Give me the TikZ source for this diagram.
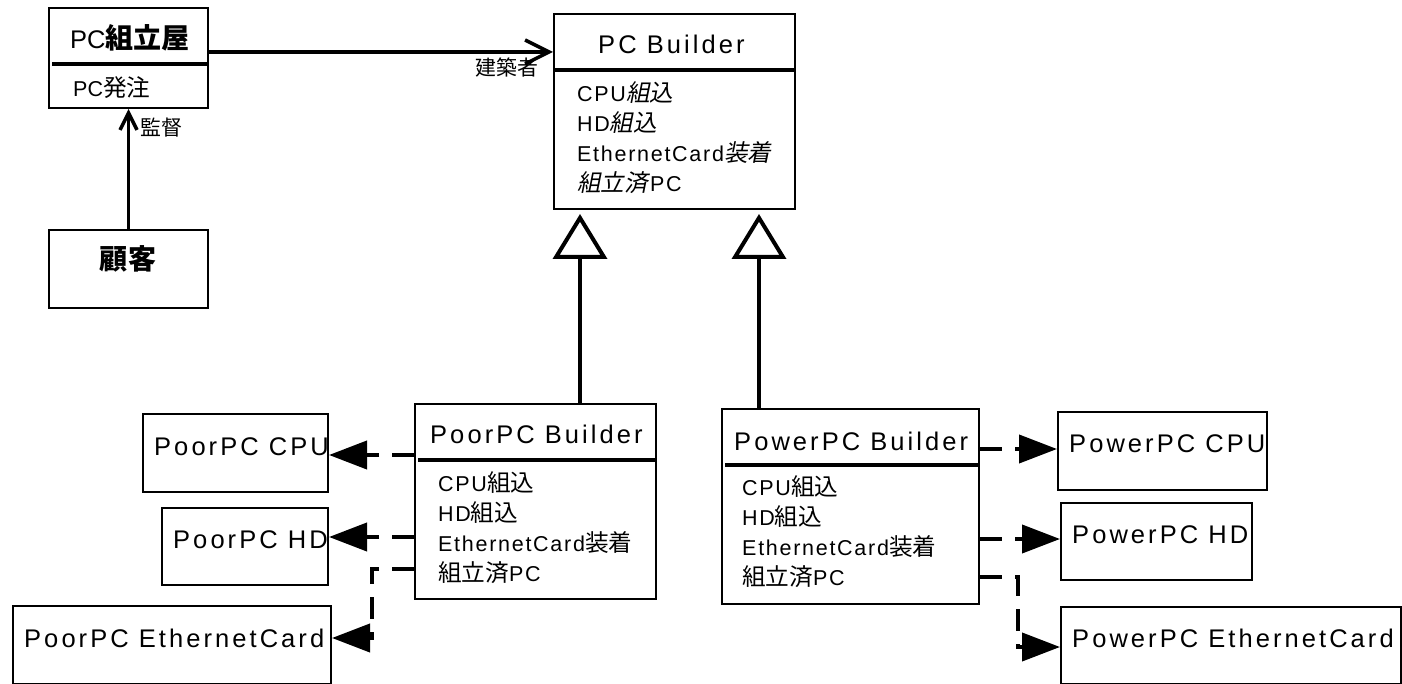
\documentclass[tikz,border=0pt]{standalone}
\usepackage{fontspec}
\setmainfont{Liberation Sans}
\newfontfamily\jp{Noto Sans CJK JP}[Scale=1.1]
\newfontfamily\jpit{Noto Sans CJK JP}[Scale=1.1,FakeSlant=0.2]
\newfontfamily\namefont{Liberation Sans}[LetterSpace=12]
\newfontfamily\memberfont{Liberation Sans}[LetterSpace=8]
\usepackage{tikz}
\usetikzlibrary{
  positioning,
  calc,
  arrows.meta
}

\begin{document}
\begin{tikzpicture}[x=1pt,y=-1pt,
  box/.style={draw,line width=2pt,inner sep=0pt,anchor=north west},
  clsname/.style={inner sep=0pt,anchor=base west,font=\fontsize{25.5pt}{30pt}\namefont},
  member/.style={inner sep=0pt,anchor=base west,font=\fontsize{21.5pt}{25pt}\memberfont},
  tag/.style={inner sep=0pt,anchor=base west,font=\fontsize{19pt}{23pt}\jp},
  divider/.style={line width=4pt},
  assoc/.style={line width=3.5pt,-{Straight Barb[length=#1,width=#1]}},
  inherit/.style={line width=#1,shorten >=4pt,-{Triangle[open,length=45pt,width=54pt,line width=4pt]}},
  uses/.style={line width=4pt,dash pattern=on 22pt off 13pt,-{Triangle[length=38pt,width=28pt]}}
]
  \useasboundingbox (0,0) rectangle (1402,684);

  % 依頼側
  \node[box,minimum width=159pt,minimum height=100pt] (shop) at (48,7) {};
  \node[clsname] (shop-t) at (70,49) {{\rmfamily PC}{\jp\bfseries 組立屋}};
  \draw[divider] (52,64) -- (207,64);
  \node[member] (shop-m) at (73,97) {{\rmfamily PC}{\jp 発注}};

  \node[box,minimum width=159pt,minimum height=78pt] (customer) at (48,229) {};
  \node[clsname,anchor=base] (customer-t) at (128,270) {\jp\bfseries 顧客};

  % 抽象ビルダー
  \node[box,minimum width=241pt,minimum height=195pt] (builder) at (553,13) {};
  \node[clsname] (builder-t) at (598,54) {PC Builder};
  \draw[divider] (555,70) -- (794,70);
  \foreach \m [count=\i] in {CPU{\jpit 組込},HD{\jpit 組込},EthernetCard{\jpit 装着},{\jpit 組立済}\kern2pt PC}
    \node[member] (builder-m\i) at (577,{72+30*\i}) {\m};

  % 具象ビルダー
  \node[box,minimum width=241pt,minimum height=195pt] (poorb) at (414,403) {};
  \node[clsname] (poorb-t) at (430,443) {PoorPC Builder};
  \draw[divider] (418,460) -- (655,460);
  \foreach \m [count=\i] in {CPU{\jp 組込},HD{\jp 組込},EthernetCard{\jp 装着},{\jp 組立済}PC}
    \node[member] (poorb-m\i) at (438,{461+30*\i}) {\m};

  \node[box,minimum width=257pt,minimum height=195pt] (powerb) at (721,408) {};
  \node[clsname] (powerb-t) at (734,450) {PowerPC Builder};
  \draw[divider] (725,465) -- (978,465);
  \foreach \m [count=\i] in {CPU{\jp 組込},HD{\jp 組込},EthernetCard{\jp 装着},{\jp 組立済}PC}
    \node[member] (powerb-m\i) at (742,{465+30*\i}) {\m};

  % 部品
  \node[box,minimum width=185pt,minimum height=78pt] (pcpu) at (142,413) {};
  \node[clsname] (pcpu-t) at (154,455) {PoorPC CPU};
  \node[box,minimum width=166pt,minimum height=77pt] (phd) at (161,507) {};
  \node[clsname] (phd-t) at (173,548) {PoorPC HD};
  \node[box,minimum width=318pt,minimum height=78pt] (peth) at (12,605) {};
  \node[clsname] (peth-t) at (24,647) {PoorPC EthernetCard};

  \node[box,minimum width=209pt,minimum height=78pt] (wcpu) at (1057,411) {};
  \node[clsname] (wcpu-t) at (1069,452) {PowerPC CPU};
  \node[box,minimum width=191pt,minimum height=77pt] (whd) at (1060,502) {};
  \node[clsname] (whd-t) at (1072,543) {PowerPC HD};
  \node[box,minimum width=340pt,minimum height=77pt] (weth) at (1060,606) {};
  \node[clsname] (weth-t) at (1072,647) {PowerPC EthernetCard};

  % 関連
  \coordinate (sl) at (0,52);
  \draw[assoc=24pt] (shop.east |- sl) -- (builder.west |- sl);
  \node[tag] (builder-role) at (475,76) {建築者};
  \draw[assoc=17pt] (customer.north) -- (shop.south);
  \node[tag] (shop-role) at (140,136) {監督};

  % 継承
  \coordinate (g1) at (580,0);
  \coordinate (g2) at (759,0);
  \draw[inherit=4pt] (poorb.north -| g1) -- (builder.south -| g1);
  \draw[inherit=3.5pt] (powerb.north -| g2) -- (builder.south -| g2);

  % 生成
  \coordinate (pl1) at (0,455);
  \coordinate (pl2) at (0,537);
  \coordinate (pl3) at (0,569);
  \coordinate (pl4) at (372,638);
  \draw[uses] (poorb.west |- pl1) -- (pcpu.east |- pl1);
  \draw[uses] (poorb.west |- pl2) -- (phd.east |- pl2);
  \draw[uses] (poorb.west |- pl3) -| (pl4) -- (peth.east |- pl4);

  \coordinate (wl1) at (0,449);
  \coordinate (wl2) at (0,539);
  \coordinate (wl3) at (0,577);
  \coordinate (wl4) at (1018,647);
  \draw[uses] (powerb.east |- wl1) -- (wcpu.west |- wl1);
  \draw[uses] (powerb.east |- wl2) -- (whd.west |- wl2);
  \draw[uses] (powerb.east |- wl3) -| (wl4) -- (weth.west |- wl4);
\end{tikzpicture}
\end{document}
